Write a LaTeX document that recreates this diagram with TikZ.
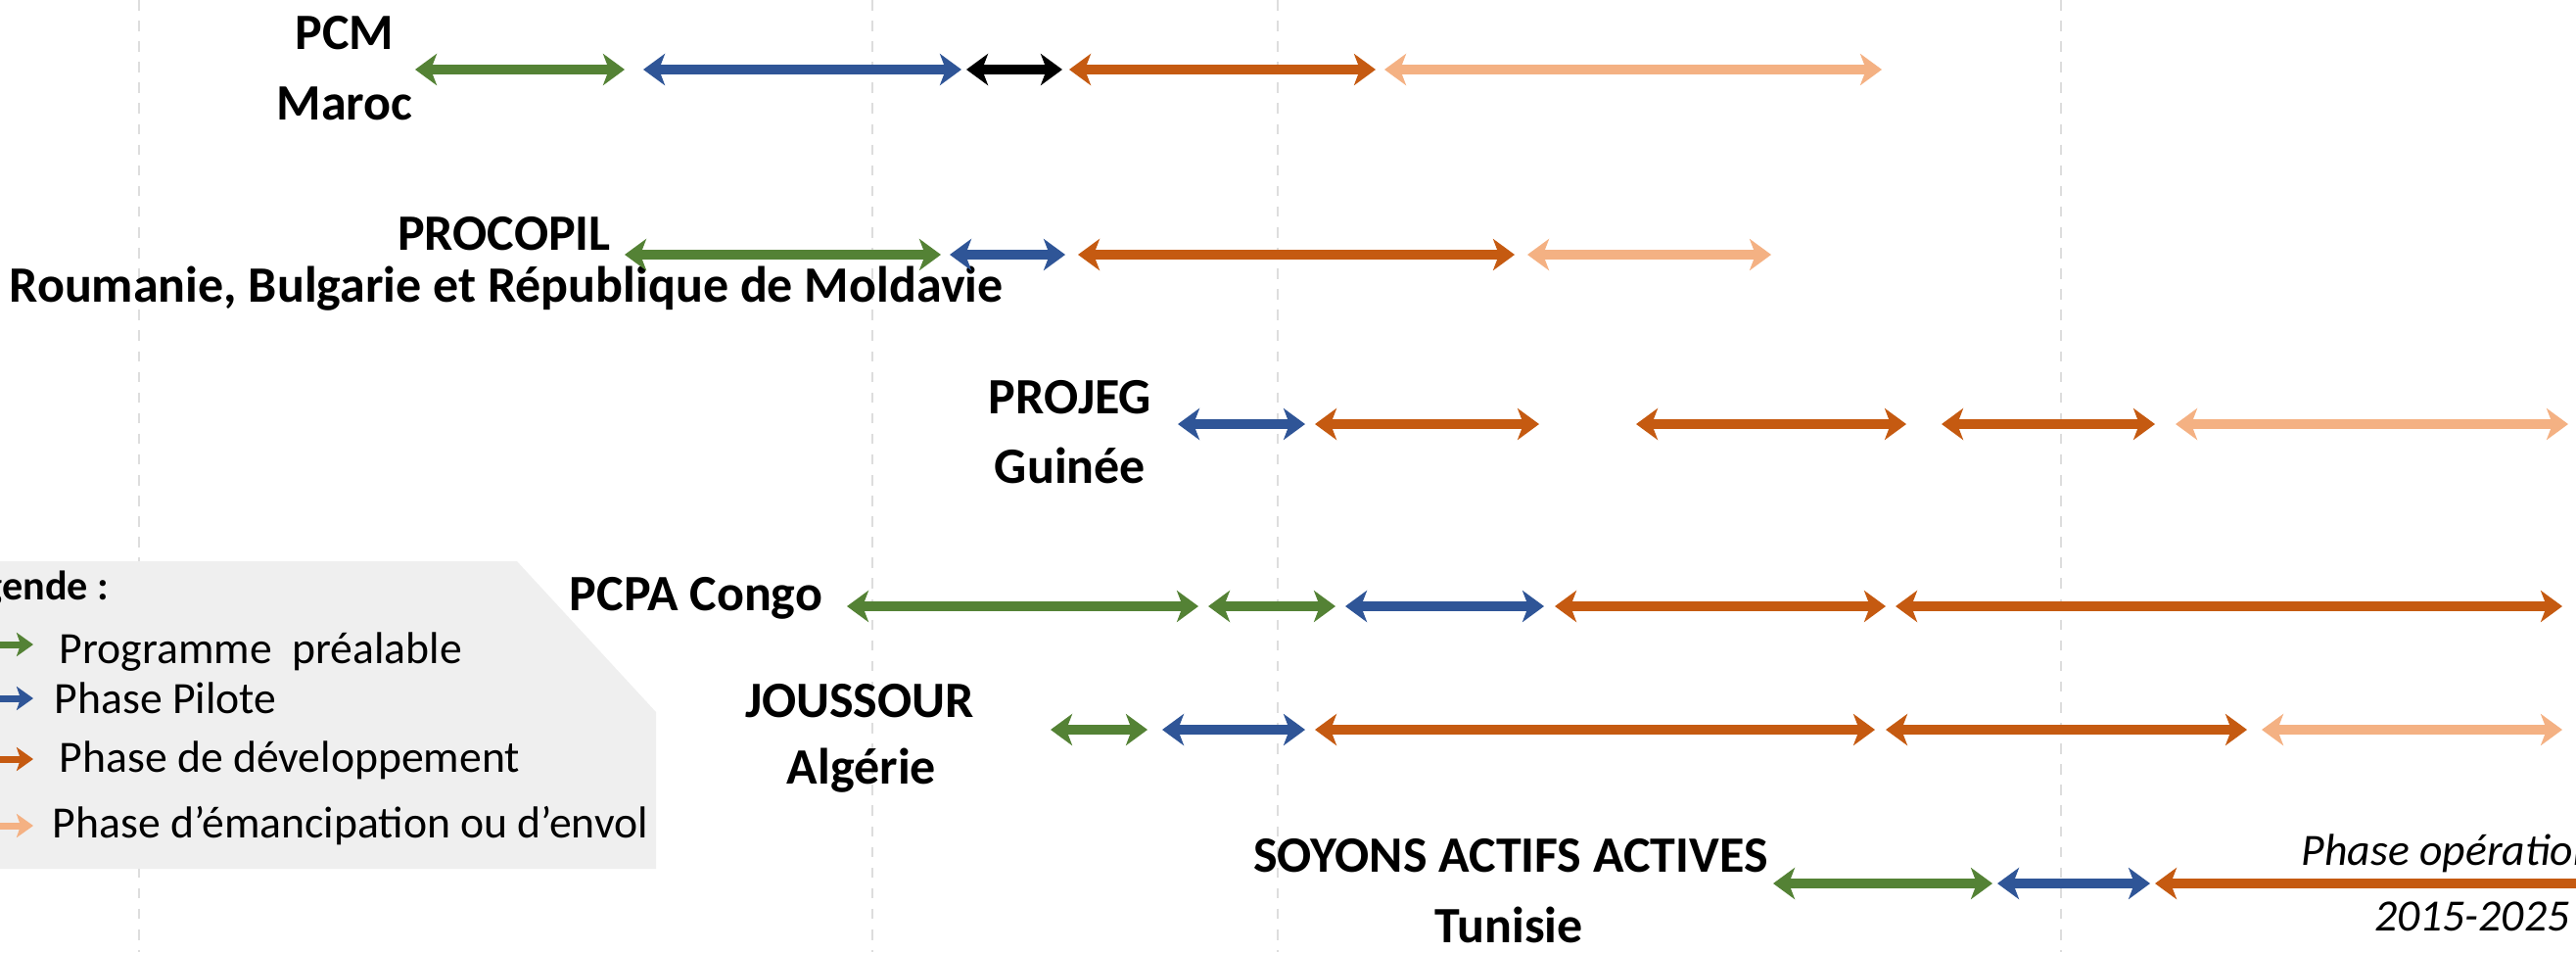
\documentclass[tikz,border=0pt]{standalone}
\usepackage{fontspec}
\setmainfont{Carlito}
\usetikzlibrary{arrows.meta}

\definecolor{vertc}{HTML}{548235}
\definecolor{bleuc}{HTML}{2F5597}
\definecolor{orangec}{HTML}{C55A11}
\definecolor{saumonc}{HTML}{F4B183}
\definecolor{grillec}{HTML}{DDDDDD}
\definecolor{legendec}{HTML}{EFEFEF}

\tikzset{
  pointe/.tip={Stealth[length=2.2mm,width=3.2mm,inset=0.6mm]},
  phase/.style={line width=1mm, pointe-pointe},
  prealable/.style={phase, draw=vertc},
  pilote/.style={phase, draw=bleuc},
  devel/.style={phase, draw=orangec},
  envol/.style={phase, draw=saumonc},
  noir/.style={phase, draw=black},
  icone/.style={line width=0.7mm, -{Stealth[length=1.7mm,width=2.4mm,inset=0.4mm]}},
  titre/.style={inner sep=0pt, anchor=base, font=\fontsize{14.8}{18}\selectfont\bfseries},
  legtitre/.style={inner sep=0pt, anchor=base east, font=\fontsize{12}{15}\selectfont\bfseries},
  legtexte/.style={inner sep=0pt, anchor=base west, font=\fontsize{13}{16}\selectfont},
  periode/.style={inner sep=0pt, font=\fontsize{13}{16}\selectfont\itshape}
}

\begin{document}
\begin{tikzpicture}

  \useasboundingbox (0,0) rectangle (26.31,-9.72);
  \clip (0,0) rectangle (26.31,-9.72);

  % grille
  \foreach \x in {1.42,8.91,13.05,21.05}
    \draw[grillec, dashed, line width=0.6pt] (\x,0) -- (\x,-9.72);

  % legende
  \fill[legendec] (0,-5.73) -- (5.28,-5.73) -- (6.70,-7.27) -- (6.70,-8.87) -- (0,-8.87) -- cycle;
  \node[legtitre] (leg) at (1.12,-6.12) {Légende :};
  \draw[icone, vertc]   (-0.3,-6.58) -- (0.34,-6.58);
  \draw[icone, bleuc]   (-0.3,-7.13) -- (0.34,-7.13);
  \draw[icone, orangec] (-0.3,-7.75) -- (0.34,-7.75);
  \draw[icone, saumonc] (-0.3,-8.43) -- (0.34,-8.43);
  \node[legtexte] (leg1) at (0.60,-6.77) {Programme~ préalable};
  \node[legtexte] (leg2) at (0.55,-7.28) {Phase Pilote};
  \node[legtexte] (leg3) at (0.60,-7.88) {Phase de développement};
  \node[legtexte] (leg4) at (0.53,-8.55) {Phase d’émancipation ou d’envol};

  % projets
  \node[titre] (pcm)      at (3.52,-0.50) {PCM};
  \node[titre] (maroc)    at (3.52,-1.22) {Maroc};
  \node[titre] (procopil) at (5.15,-2.55) {PROCOPIL};
  \node[titre] (roum)     at (5.17,-3.08) {Roumanie, Bulgarie et République de Moldavie};
  \node[titre] (projeg)   at (10.93,-4.22) {PROJEG};
  \node[titre] (guinee)   at (10.93,-4.93) {Guinée};
  \node[titre] (pcpa)     at (7.11,-6.23) {PCPA Congo};
  \node[titre] (joussour) at (8.78,-7.32) {JOUSSOUR};
  \node[titre] (algerie)  at (8.80,-8.00) {Algérie};
  \node[titre] (soyons)   at (15.43,-8.90) {SOYONS ACTIFS ACTIVES};
  \node[titre] (tunisie)  at (15.41,-9.62) {Tunisie};
  \node[periode, anchor=base west] (oper) at (23.50,-8.83) {Phase opérationnelle};
  \node[periode, anchor=base east] (dates) at (26.25,-9.50) {2015-2025};

  % phases
  \draw[prealable] (4.24,-0.71) -- (6.38,-0.71);
  \draw[pilote]    (6.57,-0.71) -- (9.82,-0.71);
  \draw[noir]      (9.87,-0.71) -- (10.85,-0.71);
  \draw[devel]     (10.92,-0.71) -- (14.05,-0.71);
  \draw[envol]     (14.14,-0.71) -- (19.22,-0.71);

  \draw[prealable] (6.38,-2.60) -- (9.61,-2.60);
  \draw[pilote]    (9.70,-2.60) -- (10.88,-2.60);
  \draw[devel]     (11.01,-2.60) -- (15.47,-2.60);
  \draw[envol]     (15.60,-2.60) -- (18.09,-2.60);

  \draw[pilote]    (12.03,-4.33) -- (13.33,-4.33);
  \draw[devel]     (13.43,-4.33) -- (15.72,-4.33);
  \draw[devel]     (16.71,-4.33) -- (19.47,-4.33);
  \draw[devel]     (19.83,-4.33) -- (22.01,-4.33);
  \draw[envol]     (22.22,-4.33) -- (26.23,-4.33);

  \draw[prealable] (8.65,-6.19) -- (12.24,-6.19);
  \draw[prealable] (12.34,-6.19) -- (13.64,-6.19);
  \draw[pilote]    (13.74,-6.19) -- (15.77,-6.19);
  \draw[devel]     (15.88,-6.19) -- (19.26,-6.19);
  \draw[devel]     (19.36,-6.19) -- (26.17,-6.19);

  \draw[prealable] (10.73,-7.45) -- (11.72,-7.45);
  \draw[pilote]    (11.87,-7.45) -- (13.33,-7.45);
  \draw[devel]     (13.43,-7.45) -- (19.15,-7.45);
  \draw[devel]     (19.26,-7.45) -- (22.95,-7.45);
  \draw[envol]     (23.10,-7.45) -- (26.17,-7.45);

  \draw[prealable] (18.11,-9.02) -- (20.35,-9.02);
  \draw[pilote]    (20.40,-9.02) -- (21.96,-9.02);
  \draw[devel]     (22.01,-9.02) -- (27.00,-9.02);

\end{tikzpicture}
\end{document}
